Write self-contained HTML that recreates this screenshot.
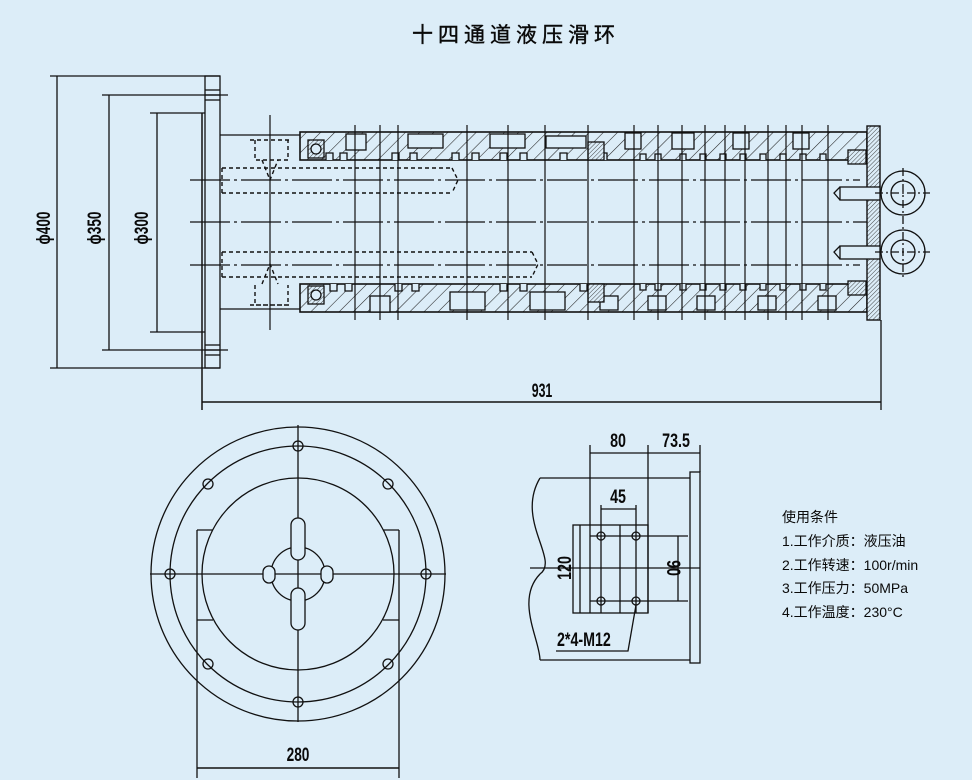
<!DOCTYPE html>
<html><head><meta charset="utf-8"><style>
html,body{margin:0;padding:0;background:#dcedf8;}
svg{display:block}
text{font-family:"Liberation Sans","Noto Sans CJK SC",sans-serif;fill:#0a0a0a}
</style></head><body>
<svg width="972" height="780" viewBox="0 0 972 780" xmlns="http://www.w3.org/2000/svg">
<defs>
<pattern id="h" width="10" height="10" patternUnits="userSpaceOnUse" patternTransform="rotate(45)">
<rect width="10" height="10" fill="#dcedf8"/><line x1="0" y1="0" x2="0" y2="10" stroke="#222" stroke-width="1.1"/></pattern>
<pattern id="h2" width="3" height="3" patternUnits="userSpaceOnUse" patternTransform="rotate(45)">
<rect width="3" height="3" fill="#dcedf8"/><line x1="0" y1="0" x2="0" y2="3" stroke="#333" stroke-width="0.9"/></pattern>
</defs>
<rect width="972" height="780" fill="#dcedf8"/>
<text x="412" y="42" font-size="21" letter-spacing="5" stroke="#0a0a0a" stroke-width="0.4">十四通道液压滑环</text>

<g stroke="#111" fill="none" stroke-width="1.3">
<line x1="50" y1="76" x2="220" y2="76"/><line x1="50" y1="368" x2="220" y2="368"/>
<line x1="57" y1="76" x2="57" y2="368"/>
<line x1="102" y1="95" x2="228" y2="95"/><line x1="102" y1="350" x2="228" y2="350"/>
<line x1="109" y1="95" x2="109" y2="350"/>
<line x1="150" y1="113" x2="205" y2="113"/><line x1="150" y1="332" x2="205" y2="332"/>
<line x1="157" y1="113" x2="157" y2="332"/>
<rect x="205" y="76" width="15" height="292"/>
<line x1="202" y1="113" x2="202" y2="410" stroke-width="1.5"/>
<line x1="205" y1="90" x2="220" y2="90"/><line x1="205" y1="95" x2="220" y2="95"/><line x1="205" y1="100" x2="220" y2="100"/>
<line x1="205" y1="345" x2="220" y2="345"/><line x1="205" y1="350" x2="220" y2="350"/><line x1="205" y1="355" x2="220" y2="355"/>
<line x1="220" y1="135" x2="300" y2="135"/><line x1="220" y1="309" x2="300" y2="309"/>
<line x1="190" y1="222" x2="880" y2="222" stroke-dasharray="40 4 3 4"/>
<line x1="190" y1="180" x2="860" y2="180" stroke-dasharray="40 4 3 4"/>
<line x1="190" y1="265" x2="860" y2="265" stroke-dasharray="40 4 3 4"/>
<rect x="300" y="132" width="567" height="28" fill="url(#h)" stroke-width="1.6"/>
<rect x="300" y="284" width="567" height="28" fill="url(#h)" stroke-width="1.6"/>
<g fill="#dcedf8">
<rect x="346" y="134" width="20" height="16"/><rect x="408" y="134" width="35" height="14"/><rect x="490" y="134" width="35" height="14"/>
<rect x="546" y="136" width="40" height="12"/><rect x="625" y="133" width="16" height="16"/><rect x="672" y="133" width="22" height="16"/>
<rect x="733" y="133" width="16" height="16"/><rect x="793" y="133" width="16" height="16"/>
<rect x="370" y="296" width="20" height="16"/><rect x="450" y="292" width="35" height="18"/><rect x="530" y="292" width="35" height="18"/>
<rect x="600" y="296" width="18" height="14"/><rect x="648" y="296" width="18" height="14"/><rect x="697" y="296" width="18" height="14"/>
<rect x="758" y="296" width="18" height="14"/><rect x="818" y="296" width="18" height="14"/>
</g>
<path fill="#dcedf8" d="M326 160 v-7 h7 v7 M340 160 v-7 h7 v7 M392 160 v-7 h7 v7 M410 160 v-7 h7 v7 M452 160 v-7 h7 v7 M472 160 v-7 h7 v7 M500 160 v-7 h7 v7 M520 160 v-7 h7 v7 M560 160 v-7 h7 v7 M600 160 v-7 h7 v7 M640 160 v-6 h6 v6 M655 160 v-6 h6 v6 M680 160 v-6 h6 v6 M700 160 v-6 h6 v6 M720 160 v-6 h6 v6 M740 160 v-6 h6 v6 M760 160 v-6 h6 v6 M780 160 v-6 h6 v6 M800 160 v-6 h6 v6 M820 160 v-6 h6 v6"/>
<path fill="#dcedf8" d="M330 284 v7 h7 v-7 M345 284 v7 h7 v-7 M395 284 v7 h7 v-7 M412 284 v7 h7 v-7 M500 284 v7 h7 v-7 M520 284 v7 h7 v-7 M580 284 v7 h7 v-7 M640 284 v6 h6 v-6 M655 284 v6 h6 v-6 M680 284 v6 h6 v-6 M700 284 v6 h6 v-6 M720 284 v6 h6 v-6 M740 284 v6 h6 v-6 M760 284 v6 h6 v-6 M780 284 v6 h6 v-6 M800 284 v6 h6 v-6 M820 284 v6 h6 v-6"/>
<rect x="308" y="140" width="16" height="18" fill="url(#h2)"/><circle cx="316" cy="149" r="5" fill="#dcedf8"/>
<rect x="308" y="286" width="16" height="18" fill="url(#h2)"/><circle cx="316" cy="295" r="5" fill="#dcedf8"/>
<rect x="588" y="142" width="16" height="18" fill="url(#h2)"/><rect x="588" y="284" width="16" height="18" fill="url(#h2)"/>
<rect x="848" y="150" width="18" height="14" fill="url(#h2)"/><rect x="848" y="281" width="18" height="14" fill="url(#h2)"/>
<g stroke-width="1.2">
<line x1="270" y1="115" x2="270" y2="330"/><line x1="355" y1="125" x2="355" y2="320"/><line x1="380" y1="125" x2="380" y2="320"/>
<line x1="398" y1="125" x2="398" y2="320"/><line x1="467" y1="125" x2="467" y2="320"/><line x1="508" y1="125" x2="508" y2="320"/>
<line x1="545" y1="125" x2="545" y2="320"/><line x1="588" y1="125" x2="588" y2="320"/><line x1="634" y1="125" x2="634" y2="320"/>
<line x1="658" y1="125" x2="658" y2="320"/><line x1="682" y1="125" x2="682" y2="320"/><line x1="705" y1="125" x2="705" y2="320"/>
<line x1="725" y1="125" x2="725" y2="320"/><line x1="745" y1="125" x2="745" y2="320"/><line x1="768" y1="125" x2="768" y2="320"/>
<line x1="786" y1="125" x2="786" y2="320"/><line x1="802" y1="125" x2="802" y2="320"/><line x1="828" y1="125" x2="828" y2="320"/>
</g>
<g stroke-dasharray="4 3" stroke-width="1.4">
<path d="M250 140 h40 M255 140 v20 h33 v-20"/>
<path d="M222 168 h230 M222 193 h230 M222 168 v25 M452 168 l6 12 l-6 13"/>
<path d="M222 252 h310 M222 277 h310 M222 252 v25 M532 252 l6 12 l-6 13"/>
<path d="M255 285 v20 h33 v-20 M250 305 h40"/>
<path d="M262 160 l8 20 l8 -20 M262 284 l8 -20 l8 20"/>
</g>
<rect x="867" y="126" width="13" height="194" fill="url(#h2)" stroke-width="1.4"/>
<line x1="881" y1="320" x2="881" y2="410"/>
<rect x="840" y="187" width="40" height="13" fill="#dcedf8"/><path d="M840 187 l-6 6 l6 7"/>
<rect x="840" y="246" width="40" height="13" fill="#dcedf8"/><path d="M840 246 l-6 6 l6 7"/>
<circle cx="903" cy="193" r="22"/><circle cx="903" cy="193" r="12"/>
<circle cx="903" cy="252" r="22"/><circle cx="903" cy="252" r="12"/>
<line x1="875" y1="193" x2="930" y2="193" stroke-dasharray="8 3 2 3"/><line x1="875" y1="252" x2="930" y2="252" stroke-dasharray="8 3 2 3"/>
<line x1="903" y1="168" x2="903" y2="278" stroke-dasharray="8 3 2 3"/>
<line x1="202" y1="402" x2="881" y2="402" stroke-width="1.6"/>

<circle cx="298" cy="574" r="147"/><circle cx="298" cy="574" r="128"/><circle cx="298" cy="574" r="96"/>
<line x1="150" y1="574" x2="446" y2="574"/><line x1="298" y1="425" x2="298" y2="722"/>
<g>
<circle cx="298" cy="446" r="5"/><circle cx="298" cy="702" r="5"/><circle cx="170" cy="574" r="5"/><circle cx="426" cy="574" r="5"/>
<circle cx="208" cy="484" r="5"/><circle cx="388" cy="484" r="5"/><circle cx="208" cy="664" r="5"/><circle cx="388" cy="664" r="5"/>
</g>
<path d="M197 530 h16 M383 530 h16 M197 620 h16 M383 620 h16"/>
<line x1="197" y1="530" x2="197" y2="778"/><line x1="399" y1="530" x2="399" y2="778"/>
<line x1="197" y1="768" x2="399" y2="768" stroke-width="1.5"/>
<circle cx="298" cy="574" r="27"/>
<rect x="291" y="518" width="14" height="42" rx="7" fill="#dcedf8"/><rect x="291" y="588" width="14" height="42" rx="7" fill="#dcedf8"/>
<rect x="263" y="566" width="12" height="17" rx="6" fill="#dcedf8"/><rect x="321" y="566" width="12" height="17" rx="6" fill="#dcedf8"/>

<path d="M540 478 C515 520 560 560 540 574 C515 600 540 640 540 660"/>
<line x1="540" y1="478" x2="690" y2="478"/><line x1="540" y1="660" x2="690" y2="660"/>
<rect x="690" y="472" width="10" height="191"/>
<line x1="590" y1="445" x2="590" y2="613"/><line x1="648" y1="445" x2="648" y2="613"/><line x1="700" y1="445" x2="700" y2="472"/>
<line x1="590" y1="453" x2="700" y2="453"/>
<line x1="601" y1="505" x2="601" y2="613"/><line x1="636" y1="505" x2="636" y2="613"/><line x1="601" y1="509" x2="636" y2="509"/>
<rect x="573" y="525" width="75" height="88"/>
<line x1="580" y1="525" x2="580" y2="613"/><line x1="620" y1="525" x2="620" y2="613"/>
<line x1="590" y1="536" x2="688" y2="536"/><line x1="590" y1="601" x2="688" y2="601"/>
<line x1="678" y1="536" x2="678" y2="601"/>
<line x1="530" y1="568" x2="700" y2="568"/>
<circle cx="601" cy="536" r="4"/><circle cx="636" cy="536" r="4"/><circle cx="601" cy="601" r="4"/><circle cx="636" cy="601" r="4"/>
<path d="M636 605 L628 651 H556"/>
</g>

<g font-size="19" font-weight="bold">
<text transform="translate(50,228) rotate(-90) scale(0.72,1)" text-anchor="middle">ϕ400</text>
<text transform="translate(101,228) rotate(-90) scale(0.72,1)" text-anchor="middle">ϕ350</text>
<text transform="translate(148,228) rotate(-90) scale(0.72,1)" text-anchor="middle">ϕ300</text>
<text transform="translate(542,397) scale(0.65,1)" text-anchor="middle">931</text>
<text transform="translate(298,761) scale(0.72,1)" text-anchor="middle">280</text>
<text transform="translate(618,447) scale(0.75,1)" text-anchor="middle">80</text>
<text transform="translate(676,447) scale(0.75,1)" text-anchor="middle">73.5</text>
<text transform="translate(618,503) scale(0.75,1)" text-anchor="middle">45</text>
<text transform="translate(571,568) rotate(-90) scale(0.75,1)" text-anchor="middle">120</text>
<text transform="translate(667,568) rotate(90) scale(0.75,1)" text-anchor="middle">90</text>
<text transform="translate(557,646) scale(0.75,1)">2*4-M12</text>
</g>
<g font-size="14">
<text x="782" y="522">使用条件</text>
<text x="782" y="546">1.工作介质：液压油</text>
<text x="782" y="570">2.工作转速：100r/min</text>
<text x="782" y="593">3.工作压力：50MPa</text>
<text x="782" y="617">4.工作温度：230°C</text>
</g>
</svg>
</body></html>
